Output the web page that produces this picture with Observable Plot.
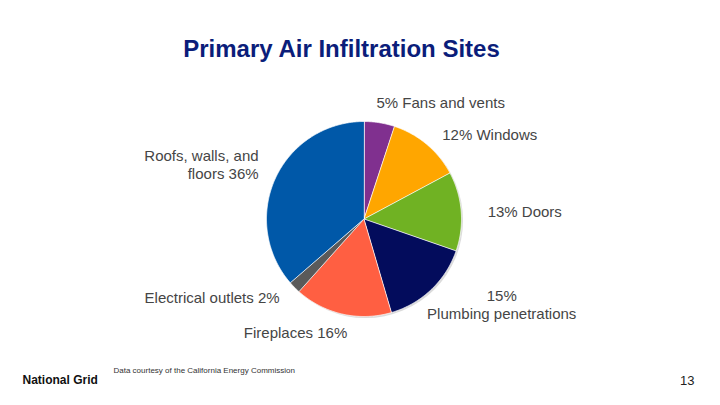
<!DOCTYPE html>
<html><head><meta charset="utf-8">
<script src="https://cdn.jsdelivr.net/npm/d3@7"></script>
<script src="https://cdn.jsdelivr.net/npm/@observablehq/plot@0.6"></script>
<style>body{margin:0;background:#fff} svg{display:block}</style>
</head><body><div id="chart"></div>
<script>
// ---- data ----
const categories = ["Fans and vents","Windows","Doors","Plumbing penetrations","Fireplaces","Electrical outlets","Roofs, walls, and floors"];
const shares = [5, 12, 13, 15, 16, 2, 36];
const labels = ["5% Fans and vents","12% Windows","13% Doors","15%\nPlumbing penetrations","Fireplaces 16%","Electrical outlets 2%","Roofs, walls, and\nfloors 36%"];
const colors = ["#80308f","#ffa600","#70b223","#030c5c","#ff5f42","#5a5a5a","#0058a8"];
const title = "Primary Air Infiltration Sites";
const source = "Data courtesy of the California Energy Commission";
const brand = "National Grid";
const pageNumber = "13";

// ---- layout ----
const W = 720, H = 405, cx = 363.5, cy = 218.5, R = 97.5;
const labelLayout = [
  {k:1.2, anchor:"start",  dx:-6, dy:-1},
  {k:1.2, anchor:"start",  dx:3,  dy:5},
  {k:1.2, anchor:"start",  dx:7,  dy:2},
  {k:1.2, anchor:"middle", dx:57, dy:1},
  {k:1.2, anchor:"end",    dx:9,  dy:-1},
  {k:1.2, anchor:"end",    dx:-1, dy:-3.5},
  {k:1.2, anchor:"end",    dx:1,  dy:-6}
];

const table = categories.map((c, i) => ({category: c, share: shares[i], label: labels[i], i}));
const arcs = d3.pie().sort(null).value(d => d.share)(table);

// slice outlines (polygon points along each arc)
const slicePts = [];
for (const a of arcs) {
  slicePts.push({category: a.data.category, x: cx, y: cy});
  const n = Math.max(2, Math.ceil((a.endAngle - a.startAngle) / 0.01));
  for (let j = 0; j <= n; j++) {
    const t = a.startAngle + (a.endAngle - a.startAngle) * j / n;
    slicePts.push({category: a.data.category, x: cx + R * Math.sin(t), y: cy - R * Math.cos(t)});
  }
}

const labelPts = arcs.map((a, i) => {
  const m = (a.startAngle + a.endAngle) / 2, L = labelLayout[i];
  return {label: a.data.label, anchor: L.anchor,
          x: cx + L.k * R * Math.sin(m) + L.dx,
          y: cy - L.k * R * Math.cos(m) + L.dy};
});

const font = "Liberation Sans, Arial, Helvetica, sans-serif";
const textMarks = ["start","middle","end"].map(anchor =>
  Plot.text(labelPts.filter(d => d.anchor === anchor), {
    x: "x", y: "y", text: "label", textAnchor: anchor, lineHeight: 1.2,
    fontSize: 15, fill: "#454545", fontFamily: font
  })
);

const chart = Plot.plot({
  width: W, height: H, margin: 0,
  style: {background: "#fff", fontFamily: font},
  x: {domain: [0, W], range: [0, W], axis: null},
  y: {domain: [0, H], range: [0, H], axis: null},
  color: {domain: categories, range: colors},
  marks: [
    Plot.dot([{x: cx, y: cy}], {x: "x", y: "y", r: R, fill: "#999", fillOpacity: 0.35, dx: 1.5, dy: 1.5, stroke: "none"}),
    Plot.line(slicePts, {x: "x", y: "y", z: "category", fill: "category", stroke: "#fff", strokeWidth: 0.7, curve: "linear-closed"}),
    ...textMarks,
    Plot.text([title], {x: 341, y: 49, text: d => d, fontSize: 24, fontWeight: "bold", fill: "#0b1d7a", textAnchor: "middle", fontFamily: font}),
    Plot.text([source], {x: 113, y: 369.5, text: d => d, fontSize: 8, fill: "#333", textAnchor: "start", fontFamily: font}),
    Plot.text([brand], {x: 22, y: 380, text: d => d, fontSize: 12, fontWeight: "bold", fill: "#111", textAnchor: "start", fontFamily: font}),
    Plot.text([pageNumber], {x: 694, y: 380, text: d => d, fontSize: 13, fill: "#222", textAnchor: "end", fontFamily: font})
  ]
});
document.getElementById("chart").appendChild(chart);
</script>
</body></html>
